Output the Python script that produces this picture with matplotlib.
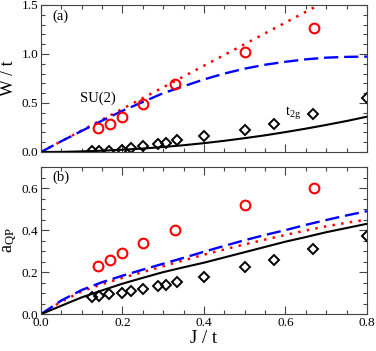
import matplotlib
matplotlib.use("Agg")
import matplotlib.pyplot as plt
from matplotlib.ticker import MultipleLocator

plt.rcParams["font.family"] = ["Liberation Serif", "DejaVu Serif"]
plt.rcParams["mathtext.fontset"] = "custom"
plt.rcParams["mathtext.rm"] = "Liberation Serif"
plt.rcParams["mathtext.it"] = "Liberation Serif"

# numerical points (symbols)
j_su2 = [0.14, 0.17, 0.2, 0.25, 0.33, 0.5, 0.67]
w_su2 = [0.24, 0.29, 0.36, 0.49, 0.69, 1.02, 1.26]
a_su2 = [0.23, 0.26, 0.29, 0.34, 0.40, 0.52, 0.60]

j_t2g = [0.125, 0.143, 0.167, 0.2, 0.222, 0.25, 0.286, 0.308, 0.333, 0.4, 0.5, 0.571, 0.667, 0.8]
w_t2g = [0.013, 0.013, 0.015, 0.023, 0.044, 0.061, 0.082, 0.089, 0.122, 0.16, 0.228, 0.286, 0.388, 0.551]
a_t2g = [0.082, 0.087, 0.094, 0.103, 0.111, 0.120, 0.135, 0.141, 0.151, 0.178, 0.225, 0.257, 0.308, 0.370]

# analytic curves
j_line = [0.0, 0.05, 0.1, 0.15, 0.2, 0.25, 0.3, 0.35, 0.4, 0.45, 0.5, 0.55, 0.6, 0.65, 0.7, 0.75, 0.8]
w_dot = [0.0, 0.11, 0.22, 0.33, 0.44, 0.55, 0.66, 0.77, 0.88, 0.99, 1.10, 1.21, 1.32, 1.43, 1.54, 1.65, 1.76]
w_dash = [0.0, 0.11, 0.215, 0.32, 0.42, 0.51, 0.60, 0.67, 0.74, 0.80, 0.85, 0.89, 0.92, 0.945, 0.962, 0.97, 0.973]
w_solid = [0.0, 0.001, 0.006, 0.013, 0.023, 0.035, 0.051, 0.069, 0.09, 0.114, 0.141, 0.17, 0.203, 0.238, 0.276, 0.316, 0.36]
a_dash = [0.0, 0.065, 0.115, 0.152, 0.183, 0.212, 0.24, 0.268, 0.297, 0.325, 0.352, 0.377, 0.40, 0.425, 0.448, 0.47, 0.49]
a_dot = [0.0, 0.06, 0.108, 0.143, 0.173, 0.2, 0.228, 0.256, 0.283, 0.308, 0.332, 0.355, 0.377, 0.398, 0.418, 0.435, 0.45]
a_solid = [0.0, 0.04, 0.08, 0.113, 0.145, 0.173, 0.2, 0.223, 0.245, 0.27, 0.295, 0.32, 0.345, 0.367, 0.39, 0.41, 0.43]

fig = plt.figure(figsize=(3.76, 3.51), dpi=100)
ax1 = fig.add_axes([0.109, 0.567, 0.867, 0.419])
ax2 = fig.add_axes([0.109, 0.105, 0.867, 0.419])


def style(ax):
    ax.tick_params(which="both", direction="in", top=True, right=True, labelsize=9.5,
                   width=0.8, color="#444444")
    ax.tick_params(which="major", length=6, pad=2)
    ax.tick_params(which="minor", length=3)
    ax.xaxis.set_major_locator(MultipleLocator(0.2))
    ax.xaxis.set_minor_locator(MultipleLocator(0.05))
    ax.set_xlim(0, 0.8)
    for s in ax.spines.values():
        s.set_linewidth(0.8)
        s.set_color("#444444")


ax1.plot(j_line, w_dot, color="red", ls=(0, (1, 2.5)), lw=1.8)
ax1.plot(j_line, w_dash, color="blue", ls=(0, (6, 2.5)), lw=1.7)
ax1.plot(j_line, w_solid, color="black", lw=1.5)
ax1.plot(j_su2, w_su2, "o", mfc="none", mec="red", mew=1.5, ms=7)
ax1.plot(j_t2g, w_t2g, "D", mfc="none", mec="black", mew=1.4, ms=5)
style(ax1)
ax1.set_ylim(0, 1.5)
ax1.yaxis.set_major_locator(MultipleLocator(0.5))
ax1.yaxis.set_minor_locator(MultipleLocator(0.1))
ax1.set_xticklabels([])
ax1.set_ylabel("W / t", fontsize=13, labelpad=3)
ax1.text(0.027, 1.38, "(a)", fontsize=10.5, va="center")
ax1.text(0.096, 0.55, "SU(2)", fontsize=10.5, va="center")
ax1.text(0.6, 0.40, r"t$_{\rm 2g}$", fontsize=10.5, va="center")

ax2.plot(j_line, a_dot, color="red", ls=(0, (1, 2.5)), lw=1.8)
ax2.plot(j_line, a_dash, color="blue", ls=(0, (6, 2.5)), lw=1.7)
ax2.plot(j_line, a_solid, color="black", lw=1.5)
ax2.plot(j_su2, a_su2, "o", mfc="none", mec="red", mew=1.5, ms=7)
ax2.plot(j_t2g, a_t2g, "D", mfc="none", mec="black", mew=1.4, ms=5)
style(ax2)
ax2.set_ylim(0, 0.7)
ax2.yaxis.set_major_locator(MultipleLocator(0.2))
ax2.yaxis.set_minor_locator(MultipleLocator(0.05))
ax2.set_xticks([0.0, 0.2, 0.4, 0.6, 0.8])
ax2.set_xticklabels(["0.0", "0.2", "0.4", "0.6", "0.8"])
ax2.set_ylabel(r"a$_{\rm QP}$", fontsize=13, labelpad=2)
ax2.set_xlabel("J / t", fontsize=13.5, labelpad=1)
ax2.text(0.027, 0.65, "(b)", fontsize=10.5, va="center")

fig.savefig("out.png", dpi=100)
